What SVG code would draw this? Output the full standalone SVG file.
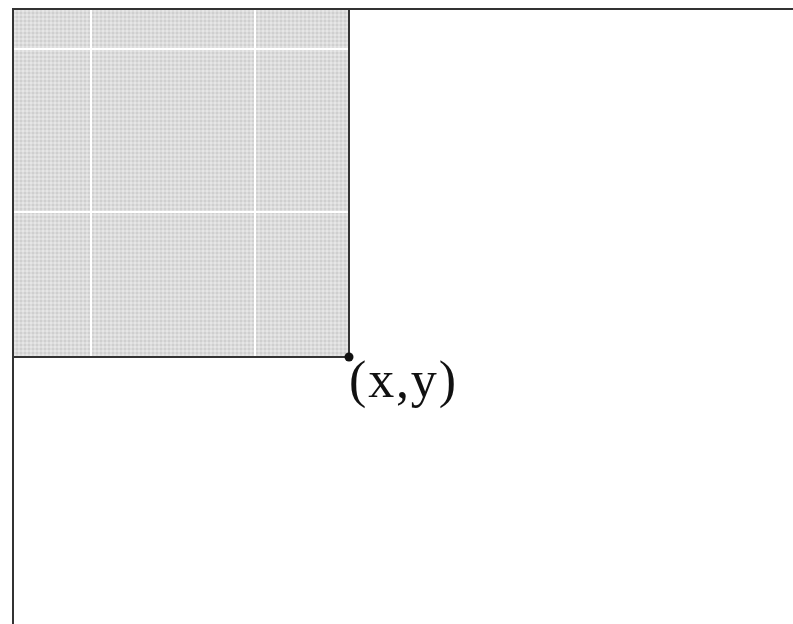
<svg xmlns="http://www.w3.org/2000/svg" width="793" height="624" viewBox="0 0 793 624">
<style>
.frame{fill:none;stroke:#333;stroke-width:2}
.grid{stroke:#ffffff;stroke-width:2}
.lbl{font-family:"Liberation Serif","Times New Roman",serif;font-size:52px;fill:#111}
</style>
<defs>
<pattern id="dots" width="4" height="4" patternUnits="userSpaceOnUse">
<rect width="4" height="4" fill="#dcdcdc"/>
<rect width="2" height="2" fill="#cfcfcf"/>
<rect x="2" y="2" width="2" height="2" fill="#e6e6e6"/>
</pattern>
</defs>
<g id="shaded-region">
<rect x="13" y="9" width="336" height="348" fill="url(#dots)"/>
<line class="grid" x1="91" y1="9" x2="91" y2="357"/>
<line class="grid" x1="255" y1="9" x2="255" y2="357"/>
<line class="grid" x1="13" y1="49" x2="349" y2="49"/>
<line class="grid" x1="13" y1="212" x2="349" y2="212"/>
<path class="frame" d="M349 9 V357 H13"/>
</g>
<g id="axes">
<path class="frame" d="M13 624 V9 H793"/>
</g>
<g id="point">
<circle cx="349" cy="357" r="4.5" fill="#111"/>
<text class="lbl" x="349" y="397" textLength="107" lengthAdjust="spacing">(x,y)</text>
</g>
</svg>
